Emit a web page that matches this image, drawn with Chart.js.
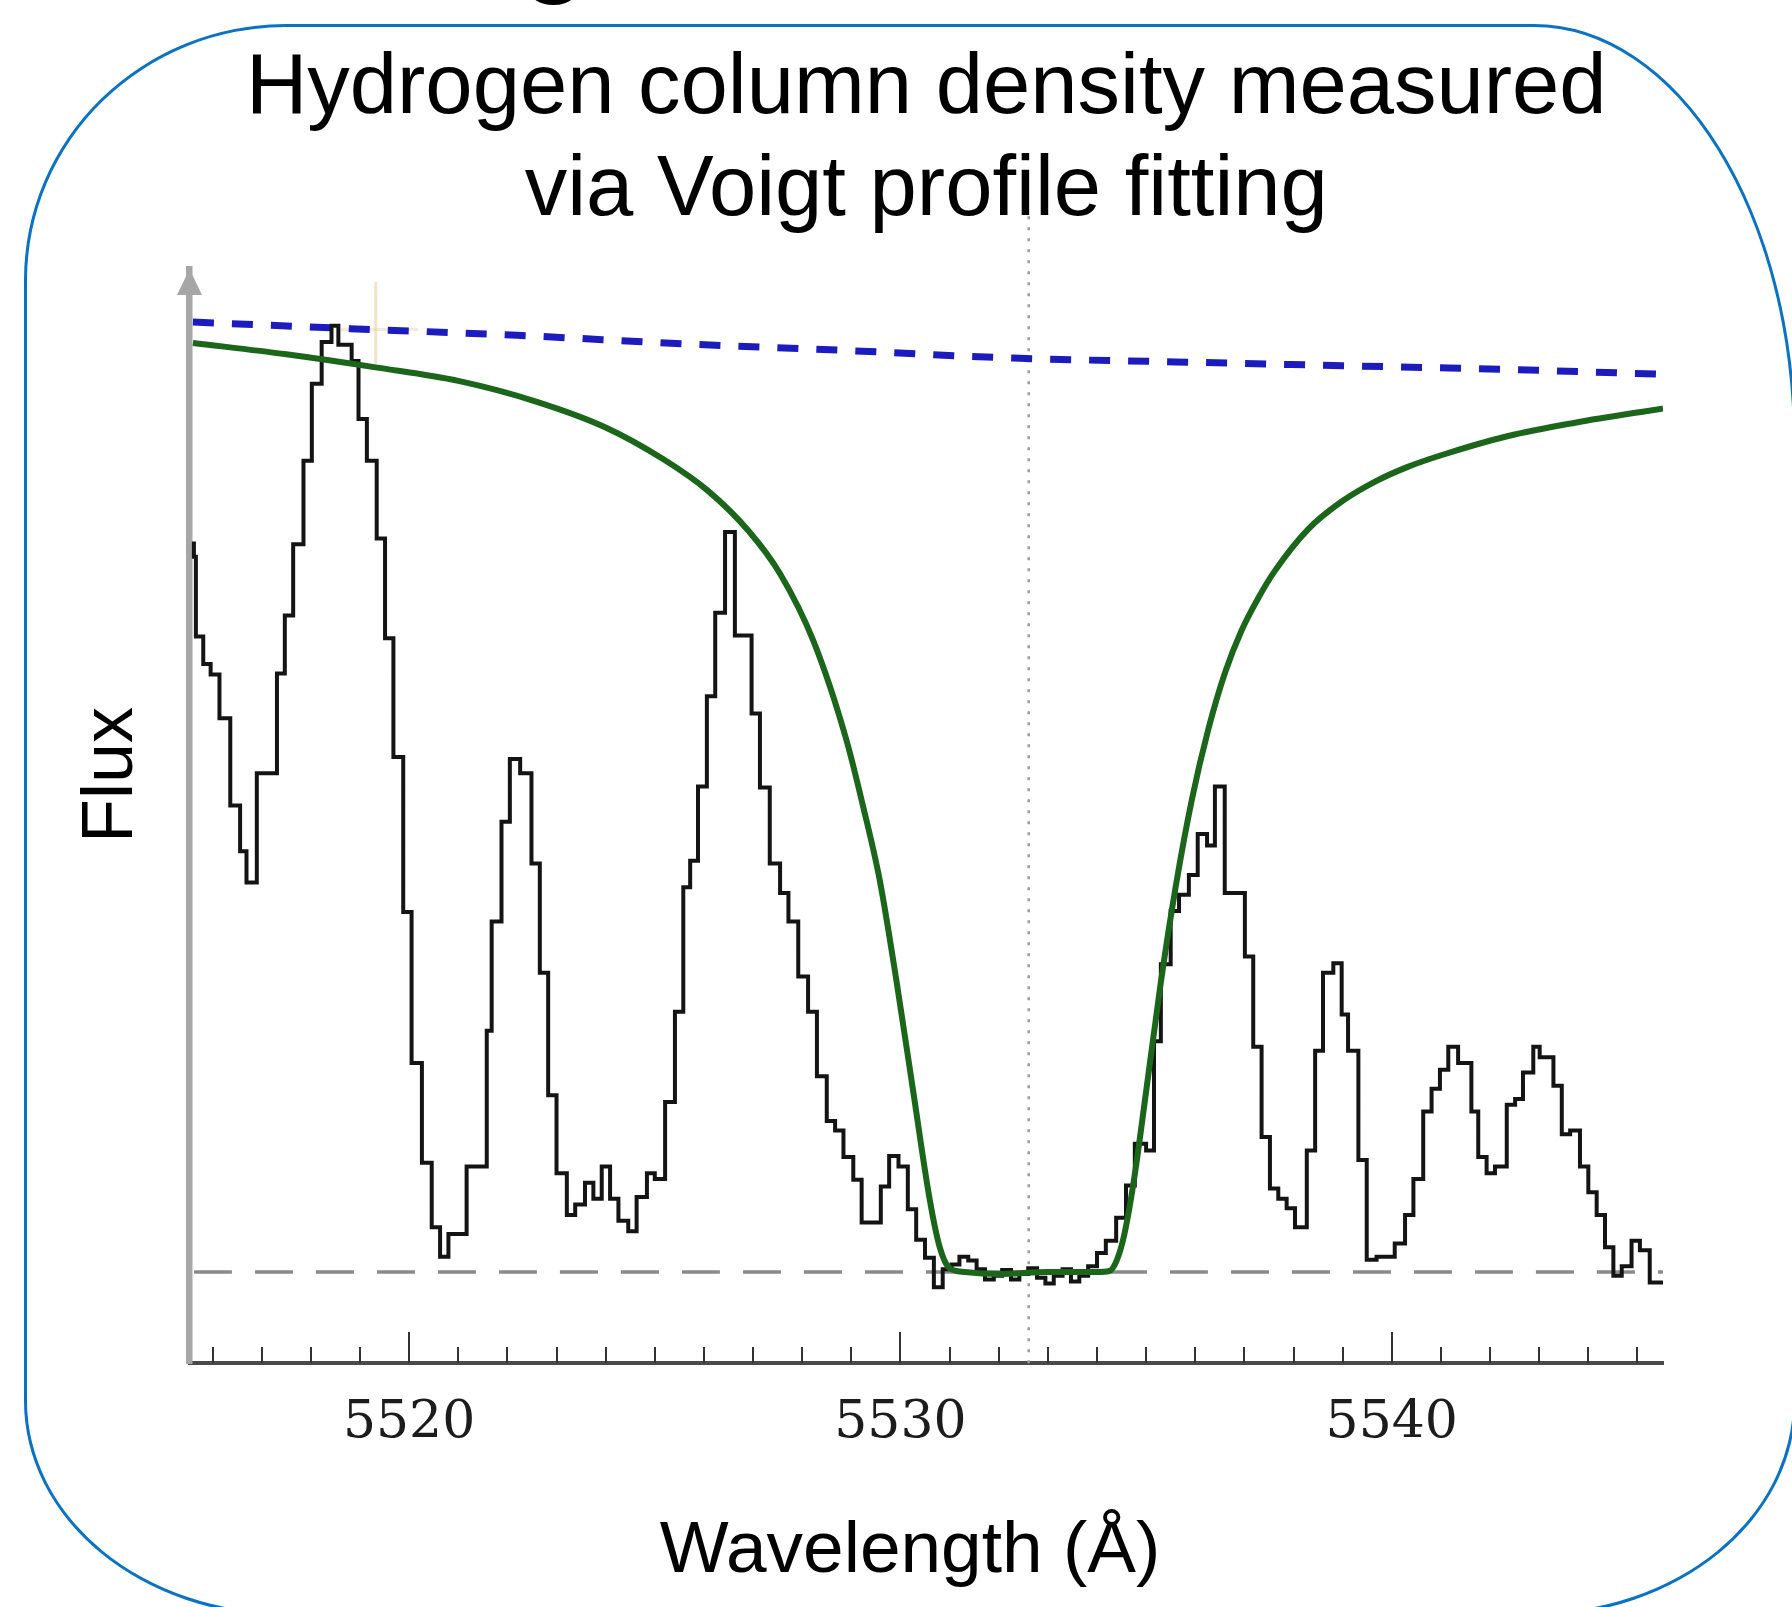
<!DOCTYPE html>
<html>
<head>
<meta charset="utf-8">
<script src="https://cdn.jsdelivr.net/npm/chart.js@4.4.1/dist/chart.umd.min.js"></script>
<style>
  html, body { margin: 0; padding: 0; background: #ffffff; overflow: hidden; }
  #frame {
    position: absolute; left: 24px; top: 24px; width: 1772px; height: 1592px;
    box-sizing: border-box; border: 3px solid #0a72c4;
    border-radius: 262px 262px 262px 262px / 256px 420px 215px 215px;
  }
  #frag {
    position: absolute; left: 521px; top: -122px; font: 120px/120px "Liberation Sans", Arial, sans-serif;
    color: #000;
  }
  #wrap { position: absolute; left: 0; top: 0; width: 1792px; height: 1607px; }
</style>
</head>
<body>
<div id="frame"></div>
<div id="frag">g</div>
<div id="wrap"><canvas id="c"></canvas></div>
<script>
// ---------------- data ----------------
const titleLines = ['Hydrogen column density measured', 'via Voigt profile fitting'];
const xAxisTitle = 'Wavelength (Å)';
const yAxisTitle = 'Flux';
const xTickLabels = ['5520', '5530', '5540'];

// observed spectrum: bin start wavelength (Å) and flux (continuum ~ 1)
const wavelength = [
  5515.62, 5515.66, 5515.81, 5515.96, 5516.14, 5516.36, 5516.56, 5516.69, 5516.90, 5517.31,
  5517.47, 5517.64, 5517.85, 5518.02, 5518.22, 5518.42, 5518.56, 5518.83, 5518.97, 5519.14,
  5519.34, 5519.51, 5519.68, 5519.88, 5520.05, 5520.26, 5520.46, 5520.63, 5520.80, 5521.17,
  5521.58, 5521.68, 5521.88, 5522.05, 5522.26, 5522.49, 5522.66, 5522.83, 5523.00, 5523.21,
  5523.38, 5523.58, 5523.75, 5523.92, 5524.09, 5524.26, 5524.46, 5524.63, 5524.84, 5525.00,
  5525.21, 5525.41, 5525.58, 5525.72, 5525.88, 5526.06, 5526.23, 5526.43, 5526.63, 5526.97,
  5527.14, 5527.34, 5527.55, 5527.72, 5527.92, 5528.12, 5528.30, 5528.50, 5528.67, 5528.84,
  5529.04, 5529.21, 5529.60, 5529.77, 5529.96, 5530.15, 5530.32, 5530.50, 5530.68, 5530.86,
  5531.04, 5531.20, 5531.38, 5531.55, 5531.72, 5531.90, 5532.07, 5532.25, 5532.42, 5532.60,
  5532.78, 5532.95, 5533.12, 5533.30, 5533.47, 5533.64, 5533.82, 5534.00, 5534.18, 5534.39,
  5534.59, 5534.77, 5535.00, 5535.16, 5535.30, 5535.50, 5535.67, 5535.87, 5536.05, 5536.24,
  5536.40, 5536.60, 5537.01, 5537.18, 5537.35, 5537.52, 5537.69, 5537.86, 5538.03, 5538.27,
  5538.44, 5538.60, 5538.81, 5538.98, 5539.11, 5539.32, 5539.49, 5539.69, 5540.06, 5540.27,
  5540.44, 5540.64, 5540.81, 5540.98, 5541.15, 5541.35, 5541.62, 5541.76, 5541.93, 5542.10,
  5542.34, 5542.51, 5542.67, 5542.88, 5543.01, 5543.29, 5543.46, 5543.63, 5543.83, 5544.00,
  5544.17, 5544.34, 5544.51, 5544.68, 5544.88, 5545.05, 5545.25, 5545.42, 5545.52
];
const flux = [
  0.769, 0.753, 0.669, 0.640, 0.629, 0.583, 0.491, 0.443, 0.410, 0.525,
  0.630, 0.691, 0.766, 0.854, 0.935, 0.979, 0.996, 0.976, 0.959, 0.898,
  0.854, 0.772, 0.667, 0.542, 0.379, 0.220, 0.115, 0.047, 0.016, 0.040,
  0.111, 0.254, 0.369, 0.474, 0.540, 0.525, 0.430, 0.315, 0.186, 0.104,
  0.060, 0.071, 0.094, 0.077, 0.111, 0.077, 0.054, 0.043, 0.079, 0.104,
  0.098, 0.179, 0.274, 0.405, 0.433, 0.511, 0.606, 0.694, 0.779, 0.670,
  0.588, 0.510, 0.430, 0.399, 0.369, 0.311, 0.274, 0.206, 0.159, 0.149,
  0.121, 0.097, 0.052, 0.090, 0.122, 0.111, 0.066, 0.034, 0.015, -0.016,
  0.003, 0.008, 0.016, 0.012, 0.003, -0.008, -0.004, 0.002, -0.008, -0.002,
  0.004, -0.006, -0.012, -0.004, 0.003, -0.010, -0.004, 0.006, 0.020, 0.033,
  0.057, 0.091, 0.135, 0.128, 0.243, 0.324, 0.380, 0.397, 0.418, 0.461,
  0.449, 0.511, 0.399, 0.332, 0.237, 0.142, 0.088, 0.077, 0.067, 0.047,
  0.128, 0.233, 0.315, 0.325, 0.271, 0.233, 0.118, 0.013, 0.016, 0.030,
  0.060, 0.098, 0.169, 0.193, 0.213, 0.237, 0.220, 0.169, 0.121, 0.104,
  0.111, 0.176, 0.182, 0.210, 0.237, 0.226, 0.196, 0.145, 0.149, 0.111,
  0.084, 0.060, 0.026, -0.004, 0.006, 0.033, 0.023, -0.011, -0.011
];

// Voigt profile fit
const fitWavelength = [
  5515.6, 5517.5, 5519.35, 5521.0, 5522.6, 5524.0, 5525.16, 5526.09, 5526.91, 5527.55,
  5528.23, 5528.9, 5529.24, 5529.58, 5529.92, 5530.26, 5530.6, 5530.8, 5531.0, 5531.3,
  5532.0, 5533.0, 5534.0, 5534.25, 5534.4, 5534.55, 5534.75, 5535.0, 5535.3, 5535.6,
  5535.93, 5536.27, 5536.6, 5536.94, 5537.3, 5537.62, 5538.3, 5538.98, 5539.66, 5540.3,
  5541.02, 5542.37, 5543.73, 5545.52
];
const fitFlux = [
  0.978, 0.966, 0.952, 0.938, 0.916, 0.889, 0.856, 0.822, 0.780, 0.735,
  0.664, 0.560, 0.490, 0.412, 0.306, 0.190, 0.075, 0.026, 0.004, 0.000,
  -0.002, 0.000, 0.000, 0.001, 0.012, 0.038, 0.096, 0.190, 0.305, 0.405,
  0.497, 0.572, 0.630, 0.675, 0.711, 0.738, 0.782, 0.811, 0.832, 0.847,
  0.860, 0.880, 0.894, 0.909
];

// continuum (blue dashed)
const contWavelength = [5515.6, 5518.8, 5522.2, 5525.6, 5528.9, 5532.3, 5535.6, 5539.0, 5542.4, 5545.5];
const contFlux       = [1.000, 0.993, 0.986, 0.977, 0.970, 0.962, 0.958, 0.954, 0.950, 0.945];

// zero level and line centre
const zeroWavelength = [5515.62, 5545.52];
const zeroFlux = [0, 0];
const centreWavelength = [5532.61, 5532.61];
const centreFlux = [-0.096, 1.118];

// faint cursor cross-hair near the first peak
const cursorV = { wl: [5519.32, 5519.32], fl: [1.042, 0.955] };
const cursorH = { wl: [5518.61, 5520.18], fl: [0.992, 0.992] };

const xMin = 5515.53, xMax = 5545.52, yMin = -0.0958, yMax = 1.0558;

const pts = (xs, ys) => xs.map((v, i) => ({ x: v, y: ys[i] }));

// ---------------- decorations drawn through the scales ----------------
const decor = {
  id: 'decor',
  afterDraw(chart) {
    const { ctx, chartArea, scales } = chart;
    const xs = scales.x;
    ctx.save();
    // inward tick marks
    ctx.strokeStyle = '#333';
    ctx.lineWidth = 2;
    for (const t of xs.ticks) {
      const v = t.value;
      if (Math.abs(v - Math.round(v)) > 1e-6) continue;
      const px = Math.round(xs.getPixelForValue(v));
      const major = xTickLabels.includes(String(Math.round(v)));
      ctx.beginPath();
      ctx.moveTo(px, chartArea.bottom);
      ctx.lineTo(px, chartArea.bottom - (major ? 31 : 16));
      ctx.stroke();
    }
    // y axis arrow head
    const ax = chartArea.left, at = chartArea.top;
    ctx.fillStyle = '#a6a6a6';
    ctx.beginPath();
    ctx.moveTo(ax, at);
    ctx.lineTo(ax - 12.5, at + 26);
    ctx.lineTo(ax + 12.5, at + 26);
    ctx.closePath();
    ctx.fill();
    // axis titles
    ctx.fillStyle = '#000';
    ctx.textAlign = 'center';
    ctx.textBaseline = 'alphabetic';
    ctx.font = '73px "Liberation Sans", Arial, sans-serif';
    ctx.fillText(xAxisTitle, 910, 1572);
    ctx.translate(132, 775);
    ctx.rotate(-Math.PI / 2);
    ctx.font = '72px "Liberation Sans", Arial, sans-serif';
    ctx.fillText(yAxisTitle, 0, 0);
    ctx.restore();
  }
};

const ctx = document.getElementById('c').getContext('2d');
new Chart(ctx, {
  type: 'line',
  data: {
    datasets: [
      { label: 'Voigt fit', data: pts(fitWavelength, fitFlux), borderColor: '#1b661b', borderWidth: 6,
        pointRadius: 0, cubicInterpolationMode: 'monotone', order: 0 },
      { label: 'Spectrum', data: pts(wavelength, flux), borderColor: '#141414', borderWidth: 4,
        pointRadius: 0, stepped: 'after', order: 1 },
      { label: 'Continuum', data: pts(contWavelength, contFlux), borderColor: '#1c1cbe', borderWidth: 7,
        borderDash: [21, 18], pointRadius: 0, cubicInterpolationMode: 'monotone', order: 2 },
      { label: 'Zero', data: pts(zeroWavelength, zeroFlux), borderColor: '#8a8a8a', borderWidth: 3.5,
        borderDash: [38, 23], pointRadius: 0, order: 3 },
      { label: 'Centre', data: pts(centreWavelength, centreFlux), borderColor: '#9c9c9c', borderWidth: 2.5,
        borderDash: [3, 8], pointRadius: 0, clip: false, order: 4 },
      { label: 'cursorV', data: pts(cursorV.wl, cursorV.fl), borderColor: 'rgba(225,195,140,0.45)', borderWidth: 3,
        pointRadius: 0, order: 5 },
      { label: 'cursorH', data: pts(cursorH.wl, cursorH.fl), borderColor: 'rgba(225,195,140,0.35)', borderWidth: 3,
        pointRadius: 0, order: 6 }
    ]
  },
  options: {
    responsive: true,
    maintainAspectRatio: false,
    animation: false,
    events: [],
    layout: { padding: { left: 0, right: 129, top: 0, bottom: 0 } },
    plugins: {
      legend: { display: false },
      tooltip: { enabled: false },
      title: {
        display: true,
        text: titleLines,
        color: '#000',
        fullSize: false,
        font: { family: '"Liberation Sans", Arial, sans-serif', size: 85, weight: 'normal', lineHeight: 1.2 },
        padding: { top: 39, bottom: 26 }
      }
    },
    scales: {
      x: {
        type: 'linear', min: xMin, max: xMax,
        grid: { display: true, drawOnChartArea: false, drawTicks: false },
        border: { display: true, color: '#4a4a4a', width: 4 },
        ticks: {
          stepSize: 1, autoSkip: false, maxRotation: 0, includeBounds: false, padding: 29,
          color: '#1c1c1c',
          font: { family: '"DejaVu Serif", serif', size: 52 },
          callback: (v) => (xTickLabels.includes(String(v)) ? String(v) : '')
        },
        afterFit: (s) => { s.height = 244; }
      },
      y: {
        type: 'linear', min: yMin, max: yMax,
        grid: { display: true, drawOnChartArea: false, drawTicks: false },
        border: { display: true, color: '#a6a6a6', width: 6.5 },
        ticks: { display: false },
        afterFit: (s) => { s.width = 189.5; }
      }
    }
  },
  plugins: [decor]
});
</script>
</body>
</html>
